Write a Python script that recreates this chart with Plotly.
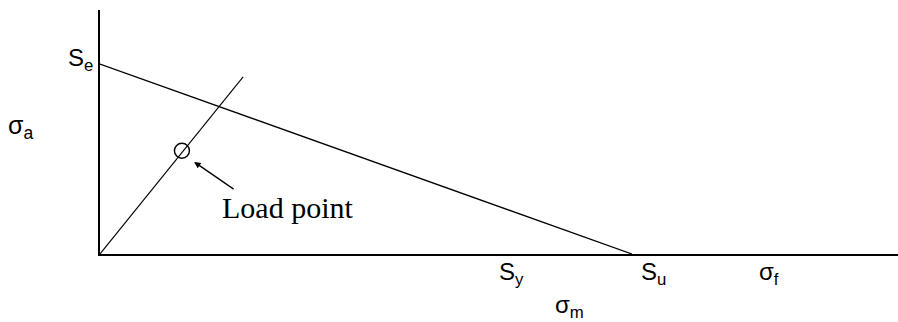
import plotly.graph_objects as go

# Data (arbitrary stress units)
Se = 35.7          # endurance limit on sigma_a axis
Sy = 77.3          # yield strength on sigma_m axis
Su = 100.0         # ultimate strength on sigma_m axis
Sf = 125.8         # true fracture stress on sigma_m axis
load_line_x = [0.0, 26.9]
load_line_y = [0.0, 33.3]
load_point = (15.4, 19.4)
arrow_head = (17.7, 17.3)
arrow_tail = (25.4, 12.0)
x_max = 150.0
y_max = 45.86

fig = go.Figure()

# Goodman line
fig.add_trace(go.Scatter(x=[0, Su], y=[Se, 0], mode="lines",
                         line=dict(color="black", width=1.3), hoverinfo="skip"))
# Load line
fig.add_trace(go.Scatter(x=load_line_x, y=load_line_y, mode="lines",
                         line=dict(color="black", width=1.1), hoverinfo="skip"))
# Load point
fig.add_trace(go.Scatter(x=[load_point[0]], y=[load_point[1]], mode="markers",
                         marker=dict(symbol="circle-open", size=15,
                                     color="black", line=dict(width=1.4)),
                         hoverinfo="skip"))

sans = "Liberation Sans"
serif = "Liberation Serif"


def px(v):
    return v / x_max


def py(v):
    return v / y_max


ann = []
ann.append(dict(x=arrow_head[0], y=arrow_head[1], ax=arrow_tail[0], ay=arrow_tail[1],
                xref="x", yref="y", axref="x", ayref="y", text="", showarrow=True,
                arrowhead=2, arrowsize=1, arrowwidth=1.3, arrowcolor="black"))
ann.append(dict(x=px(35.2), y=py(8.8), xref="paper", yref="paper", text="Load point",
                showarrow=False, xanchor="center", yanchor="middle",
                font=dict(family=serif, size=30, color="black")))
ann.append(dict(x=px(-0.9), y=py(36.6), xref="paper", yref="paper", text="S<sub>e</sub>",
                showarrow=False, xanchor="right", yanchor="middle",
                font=dict(family=sans, size=24, color="black")))
ann.append(dict(x=px(-15.0), y=py(23.8), xref="paper", yref="paper", text="σ<sub>a</sub>",
                showarrow=False, xanchor="center", yanchor="middle",
                font=dict(family=sans, size=25, color="black")))
for xv, lab in [(Sy, "S<sub>y</sub>"), (Su + 4.1, "S<sub>u</sub>"), (Sf, "σ<sub>f</sub>")]:
    ann.append(dict(x=px(xv), y=py(-3.7), xref="paper", yref="paper", text=lab,
                    showarrow=False, xanchor="center", yanchor="middle",
                    font=dict(family=sans, size=24, color="black")))
ann.append(dict(x=px(88.3), y=py(-9.9), xref="paper", yref="paper", text="σ<sub>m</sub>",
                showarrow=False, xanchor="center", yanchor="middle",
                font=dict(family=sans, size=24, color="black")))

fig.update_layout(
    width=898, height=322,
    margin=dict(l=100, r=0, t=10, b=68),
    paper_bgcolor="white", plot_bgcolor="white",
    showlegend=False,
    annotations=ann,
    xaxis=dict(range=[0, x_max], showgrid=False, zeroline=False,
               showticklabels=False, ticks="", showline=True,
               linecolor="black", linewidth=1.6, fixedrange=True),
    yaxis=dict(range=[0, y_max], showgrid=False, zeroline=False,
               showticklabels=False, ticks="", showline=True,
               linecolor="black", linewidth=1.6, fixedrange=True),
)

fig.write_html("out.html", config={"displayModeBar": False},
               post_script="document.body.style.margin='0';document.body.style.overflow='hidden';")
